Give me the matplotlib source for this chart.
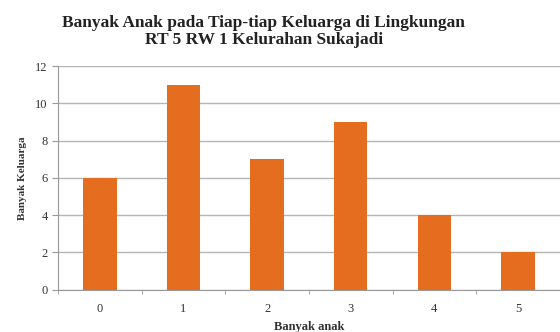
import numpy as np
import matplotlib.pyplot as plt

anak = ['0', '1', '2', '3', '4', '5']
keluarga = [6, 11, 7, 9, 4, 2]
y_ticks = [0, 2, 4, 6, 8, 10, 12]

plt.rcParams['font.family'] = ['Liberation Serif', 'DejaVu Serif']

fig = plt.figure(figsize=(5.6, 3.32), dpi=100)
ax = fig.add_axes([0.1036, 0.128, 0.896, 0.673])

x = np.arange(len(anak))
ax.bar(x, keluarga, width=0.4, color='#E56D1F', zorder=3)

ax.set_xlim(-0.5, len(anak) - 0.5)
ax.set_ylim(0, 12)
ax.set_yticks(y_ticks)
ax.yaxis.grid(True, color='#b5b5b5', linewidth=1, zorder=0)

ax.set_xticks(x)
ax.set_xticklabels(anak)
ax.set_xticks(np.arange(-0.5, len(anak)), minor=True)
ax.tick_params(axis='x', which='major', length=0, pad=10, labelsize=9, colors='#333333')
ax.tick_params(axis='x', which='minor', length=3, color='#999999')
ax.tick_params(axis='y', length=4, color='#999999', labelsize=9, colors='#333333')

for s in ['top', 'right']:
    ax.spines[s].set_visible(False)
ax.spines['left'].set_color('#999999')
ax.spines['bottom'].set_color('#999999')

ax.set_xlabel('Banyak anak', fontsize=9, fontweight='bold', labelpad=4, color='#333333')
ax.set_ylabel('Banyak Keluarga', fontsize=8, fontweight='bold', labelpad=6, color='#333333')

fig.text(0.471, 0.955, 'Banyak Anak pada Tiap-tiap Keluarga di Lingkungan\nRT 5 RW 1 Kelurahan Sukajadi',
         ha='center', va='top', fontsize=12.5, fontweight='bold', color='#222222', linespacing=1.05)

fig.savefig('out.png', dpi=100)
